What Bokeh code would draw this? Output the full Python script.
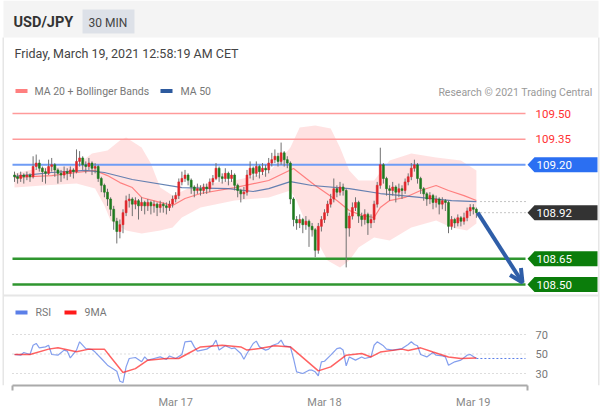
from bokeh.plotting import figure
from bokeh.models import (Range1d, LinearAxis, FixedTicker, Label, BoxAnnotation,
                          Arrow, OpenHead, ColumnDataSource)
from bokeh.core.properties import value
from bokeh.embed import file_html
from bokeh.resources import INLINE

# ---------------- data ----------------
symbol = "USD/JPY"
timeframe = "30 MIN"
stamp = "Friday, March 19, 2021 12:58:19 AM CET"
credit = "Research \u00a9 2021 Trading Central"

day_ticks = [52, 100, 148]
day_labels = ["Mar 17", "Mar 18", "Mar 19"]

first_open = 109.14
closes = [
    109.13, 109.12, 109.14, 109.13, 109.14, 109.13, 109.19, 109.21, 109.18, 109.16,
    109.15, 109.19, 109.20, 109.17, 109.15, 109.14, 109.16, 109.15, 109.17, 109.16,
    109.22, 109.24, 109.20, 109.19, 109.21, 109.18, 109.19, 109.12, 109.08, 109.04,
    109.00, 108.94, 108.87, 108.81, 108.85, 108.92, 108.99, 109.00, 108.97, 108.99,
    108.96, 108.98, 108.96, 108.98, 108.96, 108.97, 108.95, 108.97, 108.96, 108.95,
    108.97, 109.00, 109.02, 109.10, 109.12, 109.14, 109.11, 109.07, 109.05, 109.06,
    109.05, 109.07, 109.06, 109.10, 109.12, 109.18, 109.13, 109.12, 109.15, 109.12,
    109.14, 109.08, 109.05, 109.03, 109.04, 109.14, 109.18, 109.15, 109.19, 109.16,
    109.18, 109.17, 109.21, 109.23, 109.25, 109.22, 109.27, 109.23, 109.21, 109.00,
    108.88, 108.86, 108.88, 108.85, 108.87, 108.84, 108.82, 108.70, 108.84, 108.88,
    108.92, 108.97, 109.00, 109.06, 109.04, 109.07, 109.05, 108.83, 108.90, 108.95,
    108.98, 108.90, 108.88, 108.91, 108.86, 108.88, 108.97, 109.08, 109.20, 109.12,
    109.06, 109.05, 109.07, 109.04, 109.06, 109.05, 109.10, 109.13, 109.18, 109.20,
    109.12, 109.06, 109.03, 109.00, 109.02, 108.98, 109.00, 108.97, 108.99, 108.98,
    108.84, 108.88, 108.86, 108.89, 108.87, 108.89, 108.93, 108.95, 108.94, 108.92,
]
highs = [
    109.16, 109.15, 109.16, 109.15, 109.16, 109.15, 109.25, 109.26, 109.23, 109.19,
    109.18, 109.23, 109.24, 109.21, 109.18, 109.17, 109.19, 109.18, 109.19, 109.18,
    109.29, 109.28, 109.25, 109.22, 109.24, 109.22, 109.21, 109.20, 109.13, 109.09,
    109.06, 109.01, 108.96, 108.89, 108.88, 108.94, 109.02, 109.03, 109.01, 109.01,
    109.00, 109.01, 108.99, 109.00, 108.99, 108.99, 108.98, 108.99, 108.98, 108.98,
    108.99, 109.02, 109.04, 109.12, 109.16, 109.17, 109.15, 109.12, 109.08, 109.09,
    109.08, 109.09, 109.09, 109.12, 109.14, 109.21, 109.19, 109.15, 109.18, 109.16,
    109.17, 109.15, 109.09, 109.06, 109.07, 109.17, 109.22, 109.19, 109.22, 109.20,
    109.21, 109.20, 109.24, 109.27, 109.29, 109.27, 109.33, 109.28, 109.25, 109.22,
    109.01, 108.90, 108.91, 108.89, 108.90, 108.88, 108.86, 108.83, 108.86, 108.90,
    108.94, 108.99, 109.03, 109.12, 109.08, 109.10, 109.09, 109.06, 108.92, 108.98,
    109.01, 108.99, 108.92, 108.94, 108.92, 108.91, 108.99, 109.10, 109.30, 109.21,
    109.13, 109.08, 109.10, 109.08, 109.09, 109.08, 109.12, 109.15, 109.21, 109.23,
    109.21, 109.13, 109.07, 109.04, 109.04, 109.03, 109.02, 109.01, 109.01, 109.00,
    108.99, 108.90, 108.89, 108.91, 108.90, 108.92, 108.95, 108.97, 108.97, 108.95,
]
lows = [
    109.10, 109.09, 109.10, 109.09, 109.11, 109.10, 109.12, 109.17, 109.16, 109.10,
    109.09, 109.14, 109.16, 109.13, 109.09, 109.10, 109.12, 109.11, 109.13, 109.12,
    109.15, 109.19, 109.17, 109.15, 109.17, 109.14, 109.15, 109.10, 109.04, 109.01,
    108.96, 108.90, 108.82, 108.74, 108.77, 108.80, 108.90, 108.95, 108.90, 108.94,
    108.88, 108.93, 108.91, 108.93, 108.91, 108.92, 108.90, 108.92, 108.92, 108.91,
    108.93, 108.95, 108.98, 109.00, 109.08, 109.10, 109.08, 109.03, 109.01, 109.03,
    109.02, 109.03, 109.03, 109.04, 109.08, 109.11, 109.10, 109.09, 109.10, 109.08,
    109.10, 109.05, 109.01, 108.98, 109.00, 109.02, 109.12, 109.11, 109.13, 109.12,
    109.14, 109.13, 109.15, 109.19, 109.21, 109.19, 109.20, 109.19, 109.18, 108.97,
    108.84, 108.82, 108.83, 108.80, 108.82, 108.72, 108.78, 108.66, 108.68, 108.81,
    108.86, 108.90, 108.95, 108.98, 109.01, 109.02, 109.02, 108.60, 108.78, 108.88,
    108.93, 108.86, 108.84, 108.85, 108.79, 108.83, 108.86, 108.95, 109.06, 109.09,
    109.02, 108.99, 109.02, 108.98, 109.01, 109.00, 109.03, 109.08, 109.11, 109.16,
    109.09, 109.03, 108.99, 108.96, 108.97, 108.94, 108.95, 108.91, 108.94, 108.93,
    108.80, 108.82, 108.83, 108.84, 108.84, 108.85, 108.87, 108.90, 108.91, 108.89,
]

ma20_idx = [0, 12, 20, 26, 30, 34, 38, 41, 47, 51, 55, 60, 71, 82, 90, 97, 104, 108,
            112, 116, 118, 121, 126, 131, 136, 140, 145, 149]
ma20_val = [109.126, 109.137, 109.155, 109.167, 109.137, 109.096, 109.067, 109.009,
            108.980, 108.962, 109.003, 109.032, 109.067, 109.108, 109.178, 109.079,
            108.991, 108.933, 108.904, 108.892, 108.950, 108.991, 109.009, 109.050,
            109.079, 109.050, 109.020, 108.991]
ma50_idx = [0, 12, 23, 29, 38, 54, 69, 77, 82, 89, 96, 108, 118, 125, 141, 149]
ma50_val = [109.132, 109.155, 109.167, 109.155, 109.114, 109.067, 109.061, 109.044,
            109.061, 109.102, 109.079, 109.061, 109.032, 109.020, 108.991, 108.985]
bb_up_idx = [0, 9, 20, 25, 30, 34, 36, 41, 44, 47, 51, 56, 62, 71, 82, 86, 89, 92, 97,
             102, 105, 108, 111, 116, 121, 128, 136, 144, 149]
bb_up_val = [109.149, 109.184, 109.196, 109.266, 109.284, 109.342, 109.360, 109.301,
             109.208, 109.067, 109.020, 109.061, 109.091, 109.108, 109.155, 109.237,
             109.301, 109.418, 109.430, 109.412, 109.301, 109.167, 109.108, 109.108,
             109.225, 109.266, 109.243, 109.225, 109.167]
bb_lo_idx = [0, 9, 20, 26, 29, 31, 36, 41, 47, 51, 54, 60, 71, 82, 89, 91, 94, 97, 101,
             105, 108, 111, 116, 121, 128, 136, 141, 146, 149]
bb_lo_val = [109.067, 109.079, 109.091, 109.061, 108.962, 108.874, 108.816, 108.798,
             108.816, 108.833, 108.892, 108.950, 108.991, 109.009, 109.050, 108.990,
             108.860, 108.775, 108.640, 108.599, 108.640, 108.716, 108.775, 108.757,
             108.833, 108.874, 108.833, 108.816, 108.857]

rsi_idx = [0, 2, 3, 5, 6, 7, 8, 10, 11, 12, 14, 16, 17, 18, 20, 21, 23, 25, 26, 28, 30,
           33, 34, 35, 36, 37, 39, 41, 42, 43, 45, 47, 49, 50, 52, 54, 55, 57, 58, 59,
           62, 64, 65, 66, 68, 70, 71, 73, 74, 75, 77, 78, 79, 81, 82, 83, 84, 85, 86,
           87, 89, 90, 91, 93, 95, 96, 97, 98, 99, 100, 102, 104, 105, 106, 107, 108,
           110, 112, 113, 115, 116, 117, 119, 120, 122, 125, 127, 128, 129, 130, 131,
           133, 135, 136, 138, 139, 140, 142, 144, 146, 147, 149]
rsi_val = [49.5, 48.8, 51.5, 49.5, 59.0, 60.8, 56.3, 57.3, 59.0, 49.5, 48.8, 54.0, 53.0,
           46.0, 54.0, 62.5, 55.6, 54.6, 52.0, 45.4, 38.5, 32.4, 22.0, 20.7, 36.8, 45.4,
           46.4, 42.0, 47.0, 43.7, 45.4, 47.0, 44.4, 48.0, 45.4, 49.5, 62.5, 63.2, 57.3,
           53.0, 55.0, 59.0, 64.2, 54.0, 58.4, 55.6, 56.3, 50.5, 44.7, 50.5, 60.8, 63.2,
           57.3, 54.0, 55.0, 58.4, 59.7, 60.8, 64.2, 58.4, 57.3, 45.4, 31.7, 30.0, 33.4,
           33.4, 31.7, 27.6, 42.0, 42.6, 48.8, 55.6, 56.3, 54.0, 37.9, 47.0, 43.7, 47.0,
           45.4, 47.0, 59.0, 62.5, 58.4, 55.0, 54.0, 55.6, 59.7, 62.5, 59.7, 58.4, 49.5,
           47.0, 51.5, 48.8, 48.0, 47.0, 38.5, 42.0, 43.7, 48.8, 49.5, 45.4]
rsi_ma_idx = [0, 5, 11, 14, 20, 24, 29, 31, 35, 39, 43, 49, 53, 56, 60, 67, 73, 75, 79,
              84, 89, 98, 102, 107, 112, 115, 118, 125, 127, 131, 135, 140, 144, 149]
rsi_ma_val = [49.5, 49.5, 55.0, 56.3, 52.2, 55.0, 55.0, 47.0, 31.0, 35.0, 43.7, 45.4,
              45.4, 50.5, 57.3, 59.0, 57.3, 54.0, 55.6, 58.4, 57.3, 32.7, 36.8, 48.8,
              50.5, 47.0, 52.0, 55.0, 53.6, 56.3, 52.0, 47.0, 45.4, 46.0]

resistances = [109.50, 109.35]
pivot = 109.20
supports = [108.65, 108.50]
last_price = 108.92
rsi_levels = [70, 50, 30]

# ---------------- styling / layout ----------------
FONT = "Roboto"
UP_COL, DN_COL = "#e0262b", "#1f7a1f"
RES_COL, PIV_COL, SUP_COL = "#ff9a9a", "#6f9cf5", "#2f962f"
ARROW_COL = "#2f5ea8"
BORDER = "#e6e6e6"


def X(px):   # page x pixel -> candle index
    return (px - 14.0) / 3.1


def Y(py):   # page y pixel -> price
    return 109.50 - (py - 113.0) / 171.0


def R(py):   # page y pixel -> RSI
    return 70.0 - (py - 334.0) * 40.0 / 39.0


W, H = 602, 415
FRAME_BOTTOM = 385
p = figure(width=W, height=H, x_range=Range1d(X(0), X(W)),
           y_range=Range1d(Y(FRAME_BOTTOM), Y(0)), x_axis_type=None, y_axis_type=None,
           output_backend="svg", toolbar_location=None,
           min_border_left=0, min_border_right=0, min_border_top=0,
           min_border_bottom=H - FRAME_BOTTOM)
p.extra_y_ranges = {"rsi": Range1d(R(FRAME_BOTTOM), R(0))}
p.outline_line_color = None
p.background_fill_color = "white"
p.border_fill_color = "white"

# bottom time axis (RSI panel)
ax = LinearAxis(ticker=FixedTicker(ticks=day_ticks, minor_ticks=[X(12), X(526.5)]),
                bounds=(X(11.5), X(527)),
                major_label_overrides=dict(zip(day_ticks, day_labels)),
                axis_line_color="#aaaaaa", axis_line_width=2,
                major_tick_line_color=None, major_tick_in=0, major_tick_out=0,
                minor_tick_line_color="#aaaaaa", minor_tick_line_width=2,
                minor_tick_in=0, minor_tick_out=5,
                major_label_text_font=FONT, major_label_text_font_size="11px",
                major_label_text_color="#888888", major_label_standoff=5)
p.add_layout(ax, "below")

# card frame and header
p.add_layout(BoxAnnotation(left=X(3), right=X(598), top=Y(0), bottom=Y(37),
                           fill_color="#f4f4f4", fill_alpha=1, line_alpha=0,
                           level="underlay"))
p.add_layout(BoxAnnotation(left=X(2), right=X(3.5), top=Y(37), bottom=Y(FRAME_BOTTOM),
                           fill_color=BORDER, fill_alpha=1, line_alpha=0))
p.add_layout(BoxAnnotation(left=X(597.5), right=X(599), top=Y(37), bottom=Y(FRAME_BOTTOM),
                           fill_color=BORDER, fill_alpha=1, line_alpha=0))
p.add_layout(BoxAnnotation(left=X(82), right=X(134), top=Y(9), bottom=Y(33),
                           fill_color="#dde1e8", fill_alpha=1, line_alpha=0))
p.add_layout(Label(x=X(13), y=Y(22), text=symbol, text_font=FONT,
                   text_font_size="14.5px", text_font_style="bold",
                   text_color="#333333", text_baseline="middle"))
p.add_layout(Label(x=X(88), y=Y(22), text=timeframe, text_font=FONT,
                   text_font_size="12px", text_color="#444444",
                   text_baseline="middle"))
p.add_layout(Label(x=X(14), y=Y(53), text=stamp, text_font=FONT,
                   text_font_size="12.5px", text_color="#444444",
                   text_baseline="middle"))

# panel separator
p.add_layout(BoxAnnotation(left=X(3), right=X(598), top=Y(294), bottom=Y(296),
                           fill_color=BORDER, fill_alpha=1, line_alpha=0))

# price legend
p.add_layout(BoxAnnotation(left=X(15), right=X(27), top=Y(88.5), bottom=Y(92.5),
                           fill_color="#ff7f7f", fill_alpha=1, line_alpha=0))
p.add_layout(Label(x=X(34), y=Y(91), text="MA 20 + Bollinger Bands", text_font=FONT,
                   text_font_size="10.5px", text_color="#777777",
                   text_baseline="middle"))
p.add_layout(BoxAnnotation(left=X(160), right=X(172), top=Y(88.5), bottom=Y(92.5),
                           fill_color="#2d5a9e", fill_alpha=1, line_alpha=0))
p.add_layout(Label(x=X(180), y=Y(91), text="MA 50", text_font=FONT,
                   text_font_size="10.5px", text_color="#777777",
                   text_baseline="middle"))
p.add_layout(Label(x=X(592), y=Y(92), text=credit, text_font=FONT,
                   text_font_size="10.5px", text_color="#999999",
                   text_baseline="middle", text_align="right"))

# Bollinger band fill
p.patch(bb_up_idx + bb_lo_idx[::-1], bb_up_val + bb_lo_val[::-1],
        fill_color="#ff8c8c", fill_alpha=0.25, line_color=None)

# horizontal levels
L0, L1 = X(12), X(525)
p.segment(x0=[L0] * len(resistances), y0=resistances, x1=[L1] * len(resistances),
          y1=resistances, line_color=RES_COL, line_width=1.5)
p.segment(x0=[L0], y0=[pivot], x1=[L1], y1=[pivot], line_color=PIV_COL, line_width=2)
p.segment(x0=[L0] * len(supports), y0=supports, x1=[L1] * len(supports), y1=supports,
          line_color=SUP_COL, line_width=2.5)

# moving averages
p.line(ma20_idx, ma20_val, line_color="#ff8080", line_width=1.2)
p.line(ma50_idx, ma50_val, line_color="#4a6fa8", line_width=1.2, line_alpha=0.85)

# candles
opens = [first_open] + closes[:-1]
idx = list(range(len(closes)))
src = ColumnDataSource(dict(
    x=idx, h=highs, l=lows,
    top=[max(o, c) for o, c in zip(opens, closes)],
    bot=[min(o, c) for o, c in zip(opens, closes)],
    col=[UP_COL if c >= o else DN_COL for o, c in zip(opens, closes)]))
p.segment(x0="x", y0="l", x1="x", y1="h", source=src, line_color="#707070",
          line_width=1)
p.vbar(x="x", width=0.62, top="top", bottom="bot", fill_color="col",
       line_color="col", line_width=0.6, source=src)

# dotted guides to the right
DX0 = X(480)
p.segment(x0=[DX0, DX0], y0=[last_price, ma50_val[-1]], x1=[L1, L1],
          y1=[last_price, ma50_val[-1]], line_color="#8a8a8a", line_width=1,
          line_dash="1 3")

# price tags
h = 7.5 / 171.0
TX = [X(527), X(534), X(597), X(597), X(534)]
tag_vals = [pivot, last_price] + supports
tag_cols = ["#2b6ff2", "#333333", "#0b7d0b", "#0b7d0b"]
p.patches([TX for _ in tag_vals], [[v, v + h, v + h, v - h, v - h] for v in tag_vals],
          fill_color=tag_cols, line_color=None)
p.text(x=[X(536)] * len(tag_vals), y=tag_vals, text=[f"{v:.2f}" for v in tag_vals],
       text_color="white", text_font=value(FONT), text_font_size="11.5px",
       text_baseline="middle")
p.text(x=[X(535)] * len(resistances), y=resistances,
       text=[f"{v:.2f}" for v in resistances], text_color="#ff3030",
       text_font=value(FONT), text_font_size="11.5px", text_baseline="middle")

# forecast arrow
p.add_layout(Arrow(end=OpenHead(size=13, line_color=ARROW_COL, line_width=4),
                   x_start=idx[-1] + 0.4, y_start=last_price,
                   x_end=X(522), y_end=supports[-1] + 2.0 / 171.0,
                   line_color=ARROW_COL, line_width=4))

# RSI panel
p.segment(x0=[L0] * 3, y0=rsi_levels, x1=[L1] * 3, y1=rsi_levels,
          line_color="#bbbbbb", line_width=1, line_dash="1 3", y_range_name="rsi")
p.text(x=[X(535)] * 3, y=rsi_levels, text=[str(v) for v in rsi_levels],
       text_color="#777777", text_font=value(FONT), text_font_size="11px",
       text_baseline="middle", y_range_name="rsi")
p.line(rsi_idx, rsi_val, line_color="#5b7fe8", line_alpha=0.75, line_width=1.2,
       y_range_name="rsi")
p.line(rsi_ma_idx, rsi_ma_val, line_color="#ff2020", line_alpha=0.7, line_width=1.5,
       y_range_name="rsi")
p.segment(x0=[rsi_idx[-1]], y0=[rsi_val[-1]], x1=[L1], y1=[rsi_val[-1]],
          line_color="#5b7fe8", line_width=1, line_dash="2 2", y_range_name="rsi")

# RSI legend
p.add_layout(BoxAnnotation(left=X(15), right=X(27), top=Y(310), bottom=Y(314),
                           fill_color="#5b7fe8", fill_alpha=1, line_alpha=0))
p.add_layout(Label(x=X(35), y=Y(312), text="RSI", text_font=FONT,
                   text_font_size="10.5px", text_color="#777777",
                   text_baseline="middle"))
p.add_layout(BoxAnnotation(left=X(64), right=X(76), top=Y(310), bottom=Y(314),
                           fill_color="#ff1a1a", fill_alpha=1, line_alpha=0))
p.add_layout(Label(x=X(84), y=Y(312), text="9MA", text_font=FONT,
                   text_font_size="10.5px", text_color="#777777",
                   text_baseline="middle"))

open("out.html", "w").write(file_html(p, INLINE))
